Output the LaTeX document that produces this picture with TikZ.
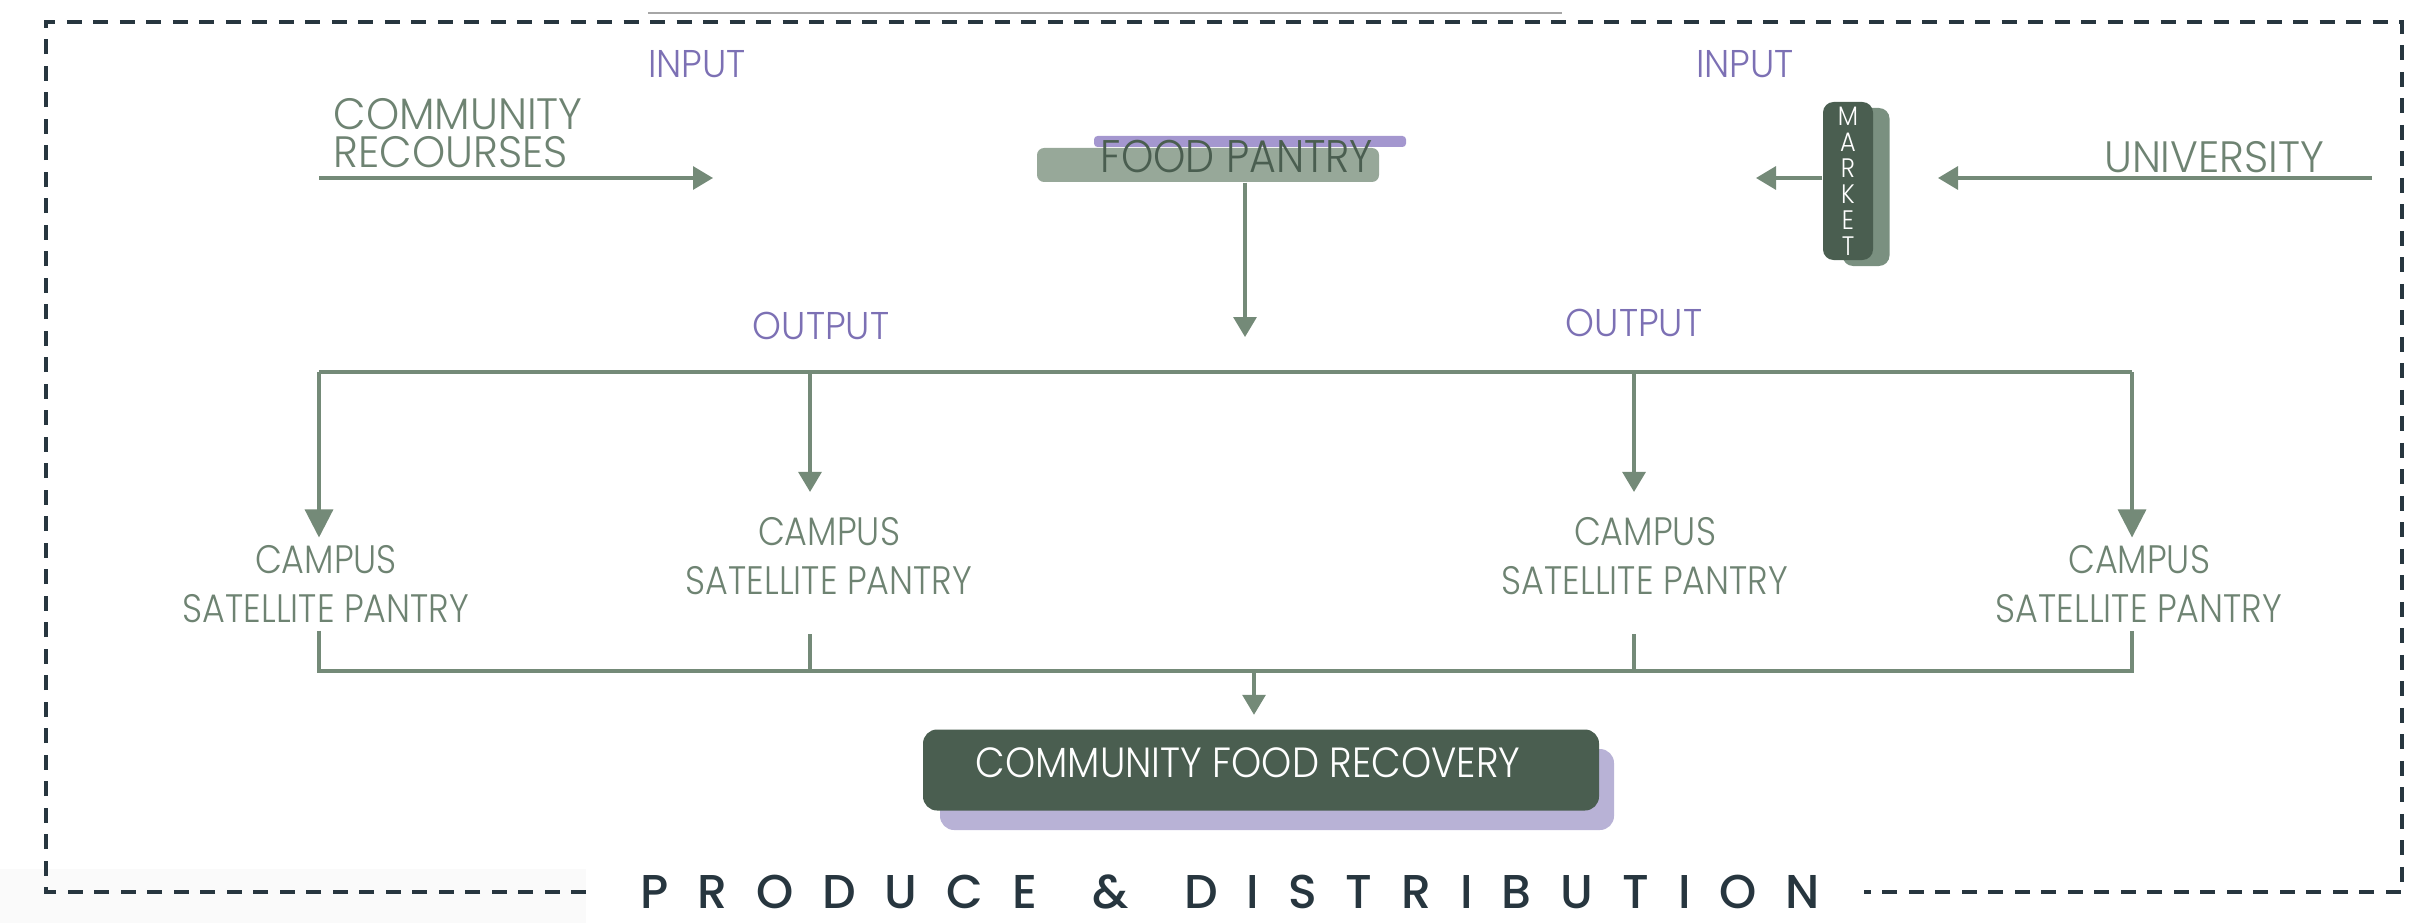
\documentclass[tikz,border=0pt]{standalone}
\usepackage{fontspec}
\setmainfont{Poppins}[UprightFont=* Light, BoldFont=* Medium]
\usetikzlibrary{arrows.meta,positioning}
\definecolor{sage}{HTML}{748A78}
\definecolor{sagetext}{HTML}{6E8372}
\definecolor{lavtext}{HTML}{7C70B4}
\definecolor{pantrybox}{HTML}{97A899}
\definecolor{lavbar}{HTML}{A497CF}
\definecolor{forest}{HTML}{4A5E50}
\definecolor{mktshade}{HTML}{7A9080}
\definecolor{lavshade}{HTML}{B8B2D6}
\definecolor{slate}{HTML}{27363F}
\newcommand{\narrow}[1]{\addfontfeatures{FakeStretch=#1}}
\tikzset{
  flow/.style={draw=sage, line width=0.9pt},
  arr/.style={flow, -{Triangle[length=2mm,width=2.3mm]}},
  bigarr/.style={flow, -{Triangle[length=2.8mm,width=2.8mm]}},
  tag/.style={text=lavtext, font=\fontsize{11}{12}\selectfont\narrow{0.95}, inner sep=0pt},
  src/.style={text=sagetext, font=\fontsize{12.5}{11}\selectfont\narrow{0.96}, inner sep=0pt, align=left},
  sat/.style={text=sagetext, font=\fontsize{11.3}{14}\selectfont\narrow{0.88}, align=center, inner sep=2pt},
}

\begin{document}
\begin{tikzpicture}
		\useasboundingbox (0,0) rectangle (24.2,9.23);
		% faint strip under the title, thin rule at the top
		\fill[black!2] (0,0) rectangle (5.86,0.54);
		\draw[gray!70, line width=0.4pt] (6.48,9.10) -- (15.62,9.10);
		%inputs
		\node[tag] (in1) at (6.97,8.59) {INPUT};
		\node[tag] (in2) at (17.45,8.59) {INPUT};
		\node[src, anchor=west] (comm) at (3.33,7.90) {COMMUNITY\\RECOURSES};
		\coordinate (commS) at (3.19,7.45);
		\coordinate (commE) at (7.13,7.45);
		\draw[arr] (commS) -- (commE);
		%food pantry
		\fill[lavbar, rounded corners=1pt] (10.94,7.87) rectangle (14.06,7.76);
		\node[fill=pantrybox, rounded corners=2pt, minimum width=3.42cm, minimum height=0.34cm, inner sep=0pt] (fpbox) at (12.08,7.58) {};
		\node[text=forest, font=\fontsize{13}{13}\selectfont\narrow{0.9}, inner sep=0pt] (fp) at (12.37,7.66) {FOOD PANTRY};
		\coordinate (fpout) at (12.45,5.86);
		\draw[arr] (fpbox.south -| fpout) -- (fpout);
		%market and university
		\node[fill=mktshade, rounded corners=3pt, minimum width=0.47cm, minimum height=1.58cm] (mktsh) at (18.66,7.36) {};
		\node[fill=forest, rounded corners=3pt, minimum width=0.5cm, minimum height=1.58cm, inner sep=0pt,
			text=white, font=\fontsize{7.6}{7.4}\selectfont\narrow{0.9}, align=center] (mkt) at (18.48,7.42) {M\\A\\R\\K\\E\\T};
		\coordinate (mktout) at (17.56,7.45);
		\draw[arr] (mkt.west |- mktout) -- (mktout);
		\node[src] (uni) at (22.14,7.66) {UNIVERSITY};
		\coordinate (uniS) at (23.72,7.45);
		\coordinate (uniE) at (19.38,7.45);
		\draw[arr] (uniS) -- (uniE);
		%outputs
		\node[tag] (out1) at (8.21,5.97) {OUTPUT};
		\node[tag] (out2) at (16.34,6.00) {OUTPUT};
		%satellite pantries
		\node[sat] (p1) at (3.26,3.39) {CAMPUS\\SATELLITE PANTRY};
		\node[sat] (p2) at (8.29,3.67) {CAMPUS\\SATELLITE PANTRY};
		\node[sat] (p3) at (16.45,3.67) {CAMPUS\\SATELLITE PANTRY};
		\node[sat] (p4) at (21.39,3.39) {CAMPUS\\SATELLITE PANTRY};
		\coordinate (dl) at (3.19,5.51);
		\coordinate (d2) at (8.10,5.51);
		\coordinate (d3) at (16.34,5.51);
		\coordinate (dr) at (21.32,5.51);
		\draw[flow] (dl) -- (dr);
		\draw[bigarr] (dl) -- (dl |- p1.north);
		\draw[bigarr] (dr) -- (dr |- p4.north);
		\draw[arr, shorten >=5pt] (d2) -- (d2 |- p2.north);
		\draw[arr, shorten >=5pt] (d3) -- (d3 |- p3.north);
		%collect to recovery
		\coordinate (bl) at (3.19,2.52);
		\coordinate (b2) at (8.10,2.52);
		\coordinate (b3) at (16.34,2.52);
		\coordinate (br) at (21.32,2.52);
		\draw[flow] (p1.south -| bl) -- (bl) -- (br) -- (p4.south -| br);
		\draw[flow, shorten <=9pt] (p2.south -| b2) -- (b2);
		\draw[flow, shorten <=9pt] (p3.south -| b3) -- (b3);
		\fill[lavshade, rounded corners=4pt] (9.40,0.93) rectangle (16.14,1.74);
		\node[fill=forest, rounded corners=4pt, minimum width=6.76cm, minimum height=0.81cm] (cfr) at (12.61,1.53) {};
		\node[text=white, font=\fontsize{12}{12}\selectfont\narrow{0.91}, inner sep=0pt] (cfrtext) at (12.48,1.60) {COMMUNITY FOOD RECOVERY};
		\coordinate (cfrin) at (12.54,2.52);
		\draw[arr, shorten >=0.14cm] (cfrin) -- (cfrin |- cfr.north);
		%frame and title
		\node[text=slate, font=\fontsize{13.5}{14}\selectfont\bfseries\addfontfeatures{LetterSpace=61}, inner sep=0pt] (title) at (12.30,0.31) {PRODUCE\hspace{0.3em} \&\hspace{0.3em} DISTRIBUTION};
		\draw[slate, line width=1pt, dash pattern=on 0.15cm off 0.115cm] (5.86,0.31) -- (0.46,0.31) -- (0.46,9.01) -- (24.02,9.01) -- (24.02,0.31) -- (18.64,0.31);
\end{tikzpicture}
\end{document}
